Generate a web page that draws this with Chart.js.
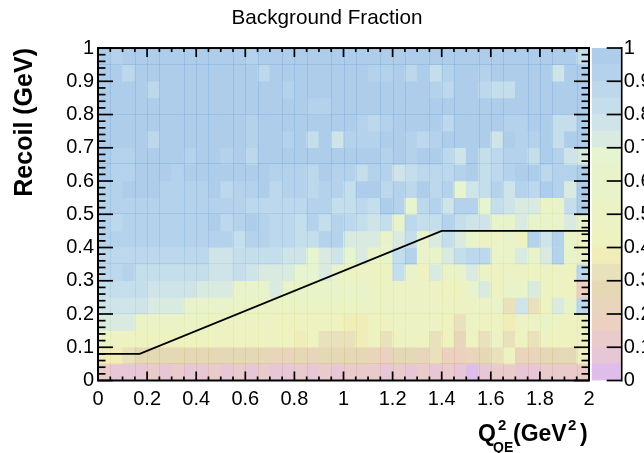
<!DOCTYPE html>
<html>
<head>
<meta charset="utf-8">
<title>Background Fraction</title>
<script src="https://cdn.jsdelivr.net/npm/chart.js@4"></script>
<style>
html, body { margin: 0; padding: 0; background: #fff; overflow: hidden; }
#wrap { position: relative; width: 644px; height: 453px; }
canvas { position: absolute; top: 0; }
#plot { left: 0; }
#bar { left: 585px; }
</style>
</head>
<body>
<div id="wrap">
  <canvas id="plot" width="644" height="453"></canvas>
  <canvas id="bar" width="59" height="453"></canvas>
</div>
<script>
// background fraction in percent, one list per recoil bin, top row first
var row_100 = [97,92,97,97,97,97,97,97,97,97,97,97,92,97,97,97,97,97,97,97,97,97,97,97,97,97,97,97,97,97,97,97,97,97,97,97,97,97,97,82];
var row_095 = [97,97,87,97,97,97,97,97,97,97,97,97,97,87,97,97,97,97,97,97,97,97,92,92,97,87,97,82,92,97,97,92,97,97,97,97,97,77,97,97];
var row_090 = [97,97,97,97,87,97,97,97,97,97,97,97,97,97,97,92,97,97,97,97,97,97,97,97,97,97,97,92,87,97,97,87,82,82,97,97,97,97,97,97];
var row_085 = [97,97,97,97,97,97,97,97,97,97,97,97,97,97,97,97,97,92,92,97,97,97,97,97,97,97,97,97,97,97,97,97,97,97,97,97,97,97,97,97];
var row_080 = [97,97,97,97,97,97,97,97,97,97,97,97,92,97,97,97,97,97,97,97,97,92,87,92,97,97,97,97,87,97,97,97,97,92,92,97,97,82,82,97];
var row_075 = [97,97,97,97,87,97,97,97,97,97,97,97,92,97,97,92,97,82,97,77,92,92,92,97,97,92,87,92,97,97,97,97,77,97,92,92,97,82,97,97];
var row_070 = [97,92,92,97,97,97,97,92,97,97,92,97,87,97,97,97,97,97,97,97,97,97,97,92,97,92,97,97,87,77,97,82,87,92,92,82,97,92,77,72];
var row_065 = [97,92,92,97,97,97,92,97,97,97,97,97,97,97,92,92,92,87,97,92,92,82,92,92,77,82,87,87,87,92,97,82,87,92,97,97,87,92,92,97];
var row_060 = [92,92,97,97,97,92,92,92,92,97,87,92,92,97,87,92,92,87,92,92,82,97,97,87,92,87,97,87,92,67,77,82,92,77,92,87,97,92,72,97];
var row_055 = [92,92,92,92,92,92,92,92,92,92,92,92,87,87,87,87,87,92,92,82,82,87,82,97,92,67,87,92,77,92,92,67,82,77,72,72,52,62,82,97];
var row_050 = [92,87,92,92,92,92,92,92,92,97,87,92,97,92,87,87,82,92,82,92,87,82,77,82,62,87,82,82,92,82,77,77,62,62,72,62,57,57,72,57];
var row_045 = [92,92,92,92,92,92,92,92,92,92,92,82,92,92,87,87,82,82,92,92,72,72,72,62,72,82,57,72,82,72,57,47,47,57,42,92,77,92,57,47];
var row_040 = [87,87,87,87,87,87,87,87,87,77,77,82,82,82,82,77,77,67,72,77,67,72,57,57,82,92,57,62,72,82,87,87,57,57,72,62,72,92,57,47];
var row_035 = [87,87,92,82,82,82,82,82,82,77,77,82,77,72,72,72,67,67,72,62,47,47,47,47,82,62,42,72,52,57,72,52,42,52,47,47,47,47,42,87];
var row_030 = [82,82,82,82,77,77,77,77,72,72,72,62,62,62,72,62,57,57,57,57,57,57,47,47,47,47,47,47,42,42,57,72,42,57,57,72,47,47,42,17];
var row_025 = [77,77,77,77,72,72,72,62,62,62,62,52,52,52,52,52,52,52,52,52,52,52,52,52,52,52,52,52,47,47,47,47,57,32,77,32,42,72,57,87];
var row_020 = [72,72,72,52,52,52,52,52,52,47,47,47,47,47,42,42,42,42,42,42,37,37,42,42,47,47,47,47,42,32,47,42,42,37,47,47,57,47,42,42];
var row_015 = [52,47,42,42,42,42,42,42,42,42,42,42,42,42,42,42,37,42,32,32,32,37,42,32,42,47,42,32,42,22,42,32,47,32,42,32,47,42,42,42];
var row_010 = [37,37,32,27,27,27,27,27,27,27,27,27,27,27,22,22,27,22,27,27,27,27,22,17,27,27,22,32,17,17,22,27,32,42,22,22,27,27,27,42];
var row_005 = [12,7,7,7,12,7,12,7,7,12,7,12,7,12,7,7,12,7,12,7,12,12,12,7,12,7,12,7,12,7,2,7,12,12,7,7,12,12,12,12];
var fraction_rows = [row_100,row_095,row_090,row_085,row_080,row_075,row_070,row_065,row_060,row_055,row_050,row_045,row_040,row_035,row_030,row_025,row_020,row_015,row_010,row_005];

// colour of each 5% contour, lowest first
var contour_colors = ['#dfbdeb','#e7c6d5','#e9cbcb','#ecd0c0','#e9d5bc','#e4d8b5','#e9e1bb','#f0edb9','#eef1c0','#ecf2c3',
                      '#ebf2c5','#e9f3c9','#e8f3cc','#e6f4d0','#d9eae0','#cee4e9','#c5deeb','#bdd8ec','#b4d2ec','#adcdea'];

// selection cut
var cut_q2 = [0, 0.17, 1.4, 2];
var cut_recoil = [0.08, 0.08, 0.45, 0.45];

var q2_bin = 0.05, recoil_bin = 0.05;
// pdf seams between the boxes, in bin numbers
var q2_seams = [1,3,4,5,7,8,9,11,12,13,15,16,17,19,20,21,23,24,25,27,28,29,31,32,33,35,36,37,39];
var recoil_seams = [1,4,7,10,13,16,19];

function cell_color(v){
    return contour_colors[Math.min(19, Math.floor(v / 5))];
}

var datasets = [];
// the cut line goes above the boxes
datasets.push({
    type: 'line',
    data: cut_q2.map(function(q, i){ return {x: q, y: cut_recoil[i]}; }),
    borderColor: '#000',
    borderWidth: 1.8,
    pointRadius: 0,
    tension: 0,
    order: 0
});
fraction_rows.forEach(function(row, r){
    var hi = 1 - r * recoil_bin;
    datasets.push({
        type: 'bar',
        data: row.map(function(v, c){ return {x: (c + 0.5) * q2_bin, y: [hi - recoil_bin, hi]}; }),
        backgroundColor: row.map(cell_color),
        barPercentage: 1,
        categoryPercentage: 1,
        grouped: false,
        order: 1
    });
});

function seam(ctx, color, x1, y1, x2, y2){
    ctx.strokeStyle = color;
    ctx.beginPath();
    ctx.moveTo(x1, y1);
    ctx.lineTo(x2, y2);
    ctx.stroke();
}

// seams are darker versions of the box below them
var seam_plugin = {
    id: 'seams',
    beforeDatasetDraw: function(chart, args){
        if(args.index !== 0) return;
        var ctx = chart.ctx, xs = chart.scales.x, ys = chart.scales.y;
        ctx.save();
        ctx.globalCompositeOperation = 'multiply';
        ctx.globalAlpha = 0.36;
        ctx.lineWidth = 1;
        fraction_rows.forEach(function(row, r){
            var top = ys.getPixelForValue(1 - r * recoil_bin);
            var bot = ys.getPixelForValue(1 - (r + 1) * recoil_bin);
            q2_seams.forEach(function(n){
                var px = Math.round(xs.getPixelForValue(n * q2_bin)) + 0.5;
                seam(ctx, cell_color(row[n - 1]), px, top, px, bot);
            });
            if(recoil_seams.indexOf(r + 1) >= 0){
                row.forEach(function(v, c){
                    var py = Math.round(bot) - 0.5;
                    seam(ctx, cell_color(v), xs.getPixelForValue(c * q2_bin), py, xs.getPixelForValue((c + 1) * q2_bin), py);
                });
            }
        });
        ctx.restore();
    }
};

function tick(ctx, x1, y1, x2, y2){
    ctx.beginPath();
    ctx.moveTo(x1, y1);
    ctx.lineTo(x2, y2);
    ctx.stroke();
}

// root style ticks: inward, on all four sides
var frame_plugin = {
    id: 'frame',
    afterDraw: function(chart){
        var ctx = chart.ctx, a = chart.chartArea, xs = chart.scales.x, ys = chart.scales.y;
        ctx.save();
        ctx.strokeStyle = '#000';
        ctx.lineWidth = 1.7;
        for(var i = 0; i <= 40; i++){
            var px = xs.getPixelForValue(i * 0.05), xl = i % 4 === 0 ? 9 : 4;
            tick(ctx, px, a.bottom, px, a.bottom - xl);
            tick(ctx, px, a.top, px, a.top + xl);
        }
        for(var j = 0; j <= 50; j++){
            var py = ys.getPixelForValue(j * 0.02), yl = j % 5 === 0 ? 15 : 7.5;
            tick(ctx, a.left, py, a.left + yl, py);
            tick(ctx, a.right, py, a.right - yl, py);
        }
        ctx.lineWidth = 2;
        ctx.strokeRect(a.left, a.top, a.right - a.left, a.bottom - a.top);

        // x title has super and subscripts so it can't go in the scale title
        ctx.fillStyle = '#000';
        ctx.textBaseline = 'alphabetic';
        ctx.textAlign = 'left';
        ctx.font = 'bold 23px "Liberation Sans"';
        ctx.fillText('Q', 478, 441);
        ctx.fillText('(GeV', 513, 441);
        ctx.fillText(')', 580, 441);
        ctx.font = 'bold 15px "Liberation Sans"';
        ctx.fillText('2', 498, 430);
        ctx.fillText('2', 568, 430);
        ctx.font = 'bold 14px "Liberation Sans"';
        ctx.fillText('QE', 493, 452);
        ctx.restore();
    }
};

var tick_font = {family: '"Liberation Sans"', size: 20};

new Chart(document.getElementById('plot').getContext('2d'), {
    type: 'bar',
    data: {datasets: datasets},
    plugins: [seam_plugin, frame_plugin],
    options: {
        responsive: false,
        animation: false,
        layout: {padding: {left: 10}},
        plugins: {
            legend: {display: false},
            tooltip: {enabled: false},
            title: {
                display: true,
                text: 'Background Fraction',
                color: '#000',
                font: {family: '"Liberation Sans"', size: 20.7, weight: 'normal'},
                padding: {top: 5.6, bottom: 17.6}
            }
        },
        scales: {
            x: {
                type: 'linear',
                min: 0, max: 2,
                offset: false,
                grid: {display: false, offset: false, drawTicks: false},
                border: {display: false},
                ticks: {stepSize: 0.2, color: '#000', font: tick_font, padding: 7, maxRotation: 0, autoSkip: false,
                    callback: function(v){ return +v.toFixed(1); }},
                afterFit: function(s){ s.height = 72.5; }
            },
            y: {
                min: 0, max: 1,
                grid: {display: false, drawTicks: false},
                border: {display: false},
                ticks: {stepSize: 0.1, color: '#000', font: tick_font, padding: 4, autoSkip: false,
                    callback: function(v){ return +v.toFixed(1); }},
                title: {display: true, text: 'Recoil (GeV)', align: 'end', color: '#000', padding: 0,
                    font: {family: '"Liberation Sans"', size: 25, weight: 'bold'}},
                afterFit: function(s){ s.width = 88; }
            },
            // empty, keeps room for the palette canvas
            side: {
                position: 'right',
                grid: {display: false, drawTicks: false},
                border: {display: false},
                ticks: {display: false},
                afterFit: function(s){ s.width = 55; }
            }
        }
    }
});

// palette
var palette_plugin = {
    id: 'palette',
    afterDraw: function(chart){
        var ctx = chart.ctx, a = chart.chartArea, ys = chart.scales.y;
        ctx.save();
        ctx.strokeStyle = '#000';
        ctx.lineWidth = 1.7;
        for(var i = 0; i <= 10; i++){
            var py = ys.getPixelForValue(i * 0.1);
            tick(ctx, a.right + 1, py, a.right - 14, py);
        }
        tick(ctx, a.right + 1, a.top - 1, a.right + 1, a.bottom + 1);
        ctx.restore();
    }
};

new Chart(document.getElementById('bar').getContext('2d'), {
    type: 'bar',
    data: {
        labels: [''],
        datasets: contour_colors.map(function(color){
            return {data: [q2_bin], backgroundColor: color, barPercentage: 1, categoryPercentage: 1};
        })
    },
    plugins: [palette_plugin],
    options: {
        responsive: false,
        animation: false,
        layout: {padding: {left: 6.7, top: 48, bottom: 72.5}},
        plugins: {legend: {display: false}, tooltip: {enabled: false}},
        scales: {
            x: {stacked: true, display: false},
            y: {
                stacked: true,
                position: 'right',
                min: 0, max: 1,
                grid: {display: false, drawTicks: false},
                border: {display: false},
                ticks: {stepSize: 0.1, color: '#000', font: tick_font, padding: 3, autoSkip: false,
                    callback: function(v){ return +v.toFixed(1); }},
                afterFit: function(s){ s.width = 23.3; }
            }
        }
    }
});
</script>
</body>
</html>
